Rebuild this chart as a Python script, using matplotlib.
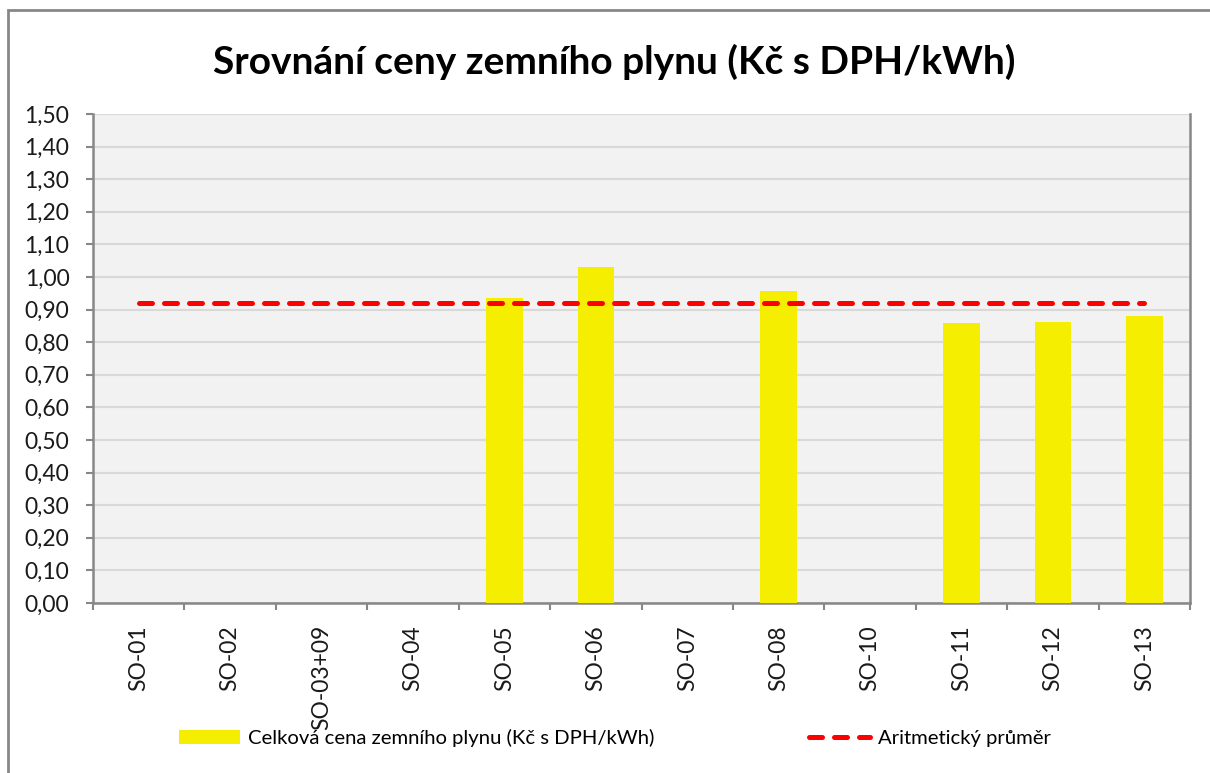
import matplotlib
matplotlib.use("Agg")
from matplotlib import pyplot as plt
from matplotlib.lines import Line2D
from matplotlib.patches import Patch, Rectangle
import numpy as np

# data
objekty = ["SO-01", "SO-02", "SO-03+09", "SO-04", "SO-05", "SO-06",
           "SO-07", "SO-08", "SO-10", "SO-11", "SO-12", "SO-13"]
cena = [0, 0, 0, 0, 0.937, 1.032, 0, 0.957, 0, 0.858, 0.862, 0.881]

nenulove = [c for c in cena if c > 0]
prumer = sum(nenulove) / len(nenulove)

plt.rcParams['font.family'] = ['Lato', 'DejaVu Sans']

fig = plt.figure(figsize=(12.1, 7.73), dpi=100)
ax = fig.add_axes([93 / 1210, 1 - 603 / 773, 1097 / 1210, 489 / 773])

x = np.arange(len(objekty))
ax.set_facecolor("#f2f2f2")
ax.bar(x, cena, 0.4, color="#f5ee00", zorder=3)
ax.plot([x[0], x[-1]], [prumer, prumer], color="#ff0000", lw=3.6,
        dashes=(2.6, 2.4), dash_capstyle="round", zorder=4)

ax.set_xlim(-0.5, len(objekty) - 0.5)
ax.set_ylim(0, 1.5)
ax.set_yticks(np.arange(0, 1.51, 0.1))
ax.set_yticklabels([f"{v:.2f}".replace(".", ",") for v in np.arange(0, 1.51, 0.1)],
                   fontsize=16.5, color="#1a1a1a")
ax.grid(axis="y", color="#d9d9d9", lw=1.5, zorder=1)

ax.set_xticks(x)
ax.set_xticklabels(objekty, rotation=90, fontsize=16.5, color="#1a1a1a")
ax.set_xticks(np.arange(-0.5, len(objekty)), minor=True)
ax.tick_params(axis="x", which="major", length=0, pad=16)
ax.tick_params(axis="x", which="minor", length=5, width=1.5, color="#878787")
ax.tick_params(axis="y", length=5, width=1.5, color="#878787", pad=12)

for s in ["left", "bottom", "right"]:
    ax.spines[s].set_color("#878787")
    ax.spines[s].set_linewidth(1.8)
ax.spines["top"].set_visible(False)

fig.text(614 / 1210, 1 - 62 / 773, "Srovnání ceny zemního plynu (Kč s DPH/kWh)",
         ha="center", va="center", fontsize=28, fontweight="bold", color="black")

# outer chart border
fig.patches.append(Rectangle((8 / 1210, -0.1), 1.2, 1 - 10 / 773 + 0.1,
                             transform=fig.transFigure, fill=False,
                             edgecolor="#878787", lw=2))

handles = [Patch(facecolor="#f5ee00", edgecolor="none"),
           Line2D([], [], color="#ff0000", lw=3.6, dashes=(2.6, 2.4),
                  dash_capstyle="round")]
fig.legend(handles, ["Celková cena zemního plynu (Kč s DPH/kWh)", "Aritmetický průměr"],
           loc="center", bbox_to_anchor=(615 / 1210, 1 - 738 / 773), ncol=2,
           frameon=False, fontsize=14.6, handlelength=3.0, handleheight=0.7,
           handletextpad=0.4, columnspacing=7.6)

fig.savefig("out.png", dpi=100)
